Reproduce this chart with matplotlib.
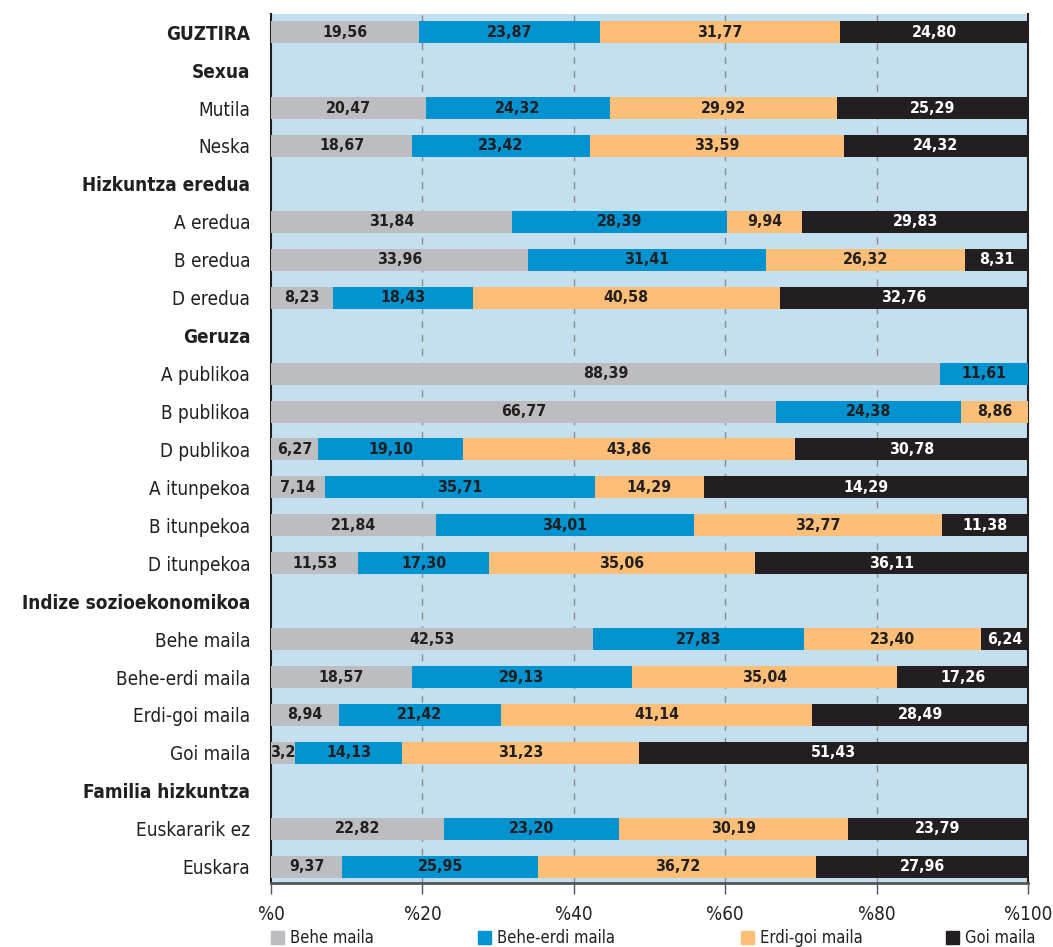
import matplotlib
matplotlib.use("Agg")
import matplotlib.pyplot as plt
from matplotlib import font_manager
from matplotlib.patches import Rectangle

# ---------------- data ----------------
categories = ["GUZTIRA", "Sexua", "Mutila", "Neska", "Hizkuntza eredua",
              "A eredua", "B eredua", "D eredua", "Geruza", "A publikoa",
              "B publikoa", "D publikoa", "A itunpekoa", "B itunpekoa",
              "D itunpekoa", "Indize sozioekonomikoa", "Behe maila",
              "Behe-erdi maila", "Erdi-goi maila", "Goi maila",
              "Familia hizkuntza", "Euskararik ez", "Euskara"]
bold_rows = ["GUZTIRA", "Sexua", "Hizkuntza eredua", "Geruza",
             "Indize sozioekonomikoa", "Familia hizkuntza"]
headers = ["Sexua", "Hizkuntza eredua", "Geruza", "Indize sozioekonomikoa",
           "Familia hizkuntza"]

series_names = ["Behe maila", "Behe-erdi maila", "Erdi-goi maila", "Goi maila"]

behe = [19.56, None, 20.47, 18.67, None, 31.84, 33.96, 8.23, None, 88.39,
        66.77, 6.27, 7.14, 21.84, 11.53, None, 42.53, 18.57, 8.94, 3.2,
        None, 22.82, 9.37]
behe_erdi = [23.87, None, 24.32, 23.42, None, 28.39, 31.41, 18.43, None, 11.61,
             24.38, 19.10, 35.71, 34.01, 17.30, None, 27.83, 29.13, 21.42, 14.13,
             None, 23.20, 25.95]
erdi_goi = [31.77, None, 29.92, 33.59, None, 9.94, 26.32, 40.58, None, 0.0,
            8.86, 43.86, 14.29, 32.77, 35.06, None, 23.40, 35.04, 41.14, 31.23,
            None, 30.19, 36.72]
goi = [24.80, None, 25.29, 24.32, None, 29.83, 8.31, 32.76, None, 0.0,
       0.0, 30.78, 42.86, 11.38, 36.11, None, 6.24, 17.26, 28.49, 51.43,
       None, 23.79, 27.96]
# labels printed in the source differ from the drawn width in a couple of cells
label_overrides = {("A itunpekoa", 3): "14,29", ("Goi maila", 0): "3,2"}

xticks = [0, 20, 40, 60, 80, 100]
xtick_labels = ["%0", "%20", "%40", "%60", "%80", "%100"]

# ---------------- style ----------------
colors = ["#bcbdc0", "#0093d0", "#fdbf77", "#231f20"]
text_colors = ["#231f20", "#231f20", "#231f20", "#ffffff"]
bg = "#c3dff0"

names = {f.name for f in font_manager.fontManager.ttflist}
if "Liberation Sans Narrow" in names:
    FAM = ["Liberation Sans Narrow", "DejaVu Sans"]
    STRETCH = "normal"
    scale = 1.0
else:
    FAM = ["DejaVu Sans"]
    STRETCH = "condensed"
    scale = 0.85
plt.rcParams["font.family"] = FAM

fig = plt.figure(figsize=(10.53, 9.47), dpi=100)
ax = fig.add_axes([271 / 1053, 1 - 883 / 947, (1028 - 271) / 1053, (883 - 14) / 947])
ax.set_facecolor(bg)

n = len(categories)
ypos = list(range(n))
all_series = [behe, behe_erdi, erdi_goi, goi]

for i, cat in enumerate(categories):
    if cat in headers:
        continue
    left = 0.0
    for s, vals in enumerate(all_series):
        v = vals[i]
        if v is None or v <= 0:
            continue
        ax.barh(i, v, left=left, height=0.58, color=colors[s], zorder=3, linewidth=0)
        txt = label_overrides.get((cat, s), f"{v:.2f}".replace(".", ","))
        ax.text(left + v / 2, i, txt, ha="center", va="center",
                color=text_colors[s], fontsize=13.5 * scale, fontweight="bold",
                fontstretch=STRETCH, zorder=4)
        left += v

for x in [20, 40, 60, 80]:
    ax.axvline(x, color="#8c8c8c", lw=1.0, ls=(0, (5, 5)), zorder=1)

ax.set_xlim(0, 100)
ax.set_ylim(n - 1 + 0.43, -0.48)
ax.set_yticks(ypos)
ax.set_yticklabels(categories)
for lab, cat in zip(ax.get_yticklabels(), categories):
    lab.set_fontsize(16 * scale)
    lab.set_fontstretch(STRETCH)
    lab.set_color("#231f20")
    if cat in bold_rows:
        lab.set_fontweight("bold")
ax.tick_params(axis="y", length=0, pad=15)

ax.set_xticks(xticks)
ax.set_xticklabels(xtick_labels, fontsize=16 * scale, fontstretch=STRETCH, color="#231f20")
ax.tick_params(axis="x", direction="out", length=8, width=1, color="#555555", pad=8)

for sp in ["top"]:
    ax.spines[sp].set_visible(False)
ax.spines["left"].set_color("#231f20")
ax.spines["right"].set_color("#231f20")
ax.spines["bottom"].set_color("#555555")
ax.spines["left"].set_linewidth(1.5)
ax.spines["right"].set_linewidth(1.5)
ax.spines["bottom"].set_linewidth(2)

# legend
leg_x = [271, 478, 741, 946]
for s, name in enumerate(series_names):
    x0 = leg_x[s] / 1053
    fig.add_artist(Rectangle((x0, 1 - 944 / 947), 13 / 1053, 13 / 947,
                             transform=fig.transFigure, color=colors[s]))
    fig.text(x0 + 19 / 1053, 1 - 937.5 / 947, name, ha="left", va="center",
             fontsize=14 * scale, fontstretch=STRETCH, color="#231f20")

fig.savefig("out.png", dpi=100)
